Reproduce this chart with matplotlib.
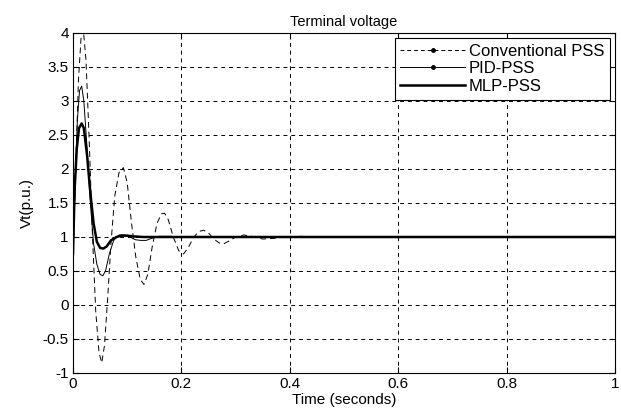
import numpy as np
import matplotlib
matplotlib.use("Agg")
import matplotlib.pyplot as plt
from matplotlib.lines import Line2D

plt.rcParams["font.family"] = ["Liberation Sans", "DejaVu Sans"]
plt.rcParams["font.size"] = 11

# values (time in s, voltage in p.u.)
t_conv = [0, 0.005, 0.01, 0.015, 0.019, 0.024, 0.03, 0.036, 0.042, 0.048, 0.053,
          0.058, 0.064, 0.07, 0.077, 0.085, 0.093, 0.1, 0.108, 0.116, 0.124, 0.131,
          0.138, 0.146, 0.155, 0.163, 0.169, 0.176, 0.185, 0.195, 0.204, 0.213,
          0.223, 0.232, 0.241, 0.25, 0.26, 0.27, 0.278, 0.29, 0.3, 0.315, 0.33,
          0.35, 0.37, 0.39, 0.42, 0.45, 0.5, 1.0]
v_conv = [0.7, 2.0, 3.3, 3.95, 4.05, 3.6, 2.4, 1.0, -0.1, -0.7, -0.85,
          -0.6, 0.1, 0.9, 1.6, 1.95, 2.02, 1.8, 1.2, 0.7, 0.38, 0.3,
          0.45, 0.85, 1.2, 1.34, 1.35, 1.25, 1.0, 0.8, 0.75, 0.85,
          1.0, 1.08, 1.1, 1.06, 0.97, 0.91, 0.9, 0.95, 1.0, 1.03, 1.01,
          0.97, 0.98, 1.0, 1.01, 1.0, 1.0, 1.0]

t_pid = [0, 0.004, 0.008, 0.012, 0.016, 0.02, 0.026, 0.032, 0.038, 0.044, 0.05,
         0.055, 0.06, 0.067, 0.075, 0.085, 0.095, 0.105, 0.115, 0.125, 0.135,
         0.145, 0.16, 0.18, 0.2, 1.0]
v_pid = [0.7, 1.8, 2.7, 3.15, 3.22, 3.0, 2.3, 1.5, 0.9, 0.6, 0.45,
         0.43, 0.5, 0.75, 0.95, 1.03, 1.03, 1.0, 0.96, 0.95, 0.95,
         0.98, 1.01, 1.01, 1.0, 1.0]

t_mlp = [0, 0.003, 0.007, 0.011, 0.016, 0.02, 0.026, 0.032, 0.038, 0.044, 0.05,
         0.056, 0.062, 0.07, 0.08, 0.09, 0.1, 0.11, 0.13, 1.0]
v_mlp = [0.75, 1.7, 2.3, 2.6, 2.67, 2.6, 2.2, 1.65, 1.2, 0.93, 0.84,
         0.83, 0.86, 0.95, 1.0, 1.02, 1.02, 1.01, 1.0, 1.0]

labels = ["Conventional PSS", "PID-PSS", "MLP-PSS"]

fig = plt.figure(figsize=(6.21, 4.09), dpi=100)
ax = fig.add_axes([73 / 621, 1 - 373 / 409, (615 - 73) / 621, (373 - 33) / 409])

ax.plot(t_conv, v_conv, color="k", lw=0.7, ls=(0, (6, 4)))
ax.plot(t_pid, v_pid, color="k", lw=0.7)
ax.plot(t_mlp, v_mlp, color="k", lw=1.8)

ax.set_xlim(0, 1)
ax.set_ylim(-1, 4)
ax.set_xticks(np.arange(0, 1.01, 0.2))
ax.set_xticklabels(["0", "0.2", "0.4", "0.6", "0.8", "1"])
ax.set_yticks(np.arange(-1, 4.01, 0.5))
ax.set_yticklabels(["-1", "-0.5", "0", "0.5", "1", "1.5", "2", "2.5", "3", "3.5", "4"])
ax.tick_params(direction="in", top=True, right=True, length=4, width=0.8, pad=3)
ax.grid(True, color="k", ls=(0, (4, 4)), lw=0.7)
for s in ax.spines.values():
    s.set_linewidth(0.8)

ax.set_title("Terminal voltage", fontsize=10.5, pad=5)
ax.set_xlabel("Time (seconds)", labelpad=1)
ax.set_ylabel("Vt(p.u.)", labelpad=6)

handles = [
    Line2D([], [], color="k", lw=0.7, ls=(0, (4, 3)), marker=".", markersize=5),
    Line2D([], [], color="k", lw=0.7, marker=".", markersize=5),
    Line2D([], [], color="k", lw=1.8),
]
leg = ax.legend(handles, labels, loc="upper right", fancybox=False,
                edgecolor="k", framealpha=1, handlelength=3.9, handletextpad=0.2,
                borderaxespad=0.3, labelspacing=0.15, borderpad=0.35, fontsize=12)
leg.get_frame().set_linewidth(0.8)

fig.savefig("out.png", dpi=100)
